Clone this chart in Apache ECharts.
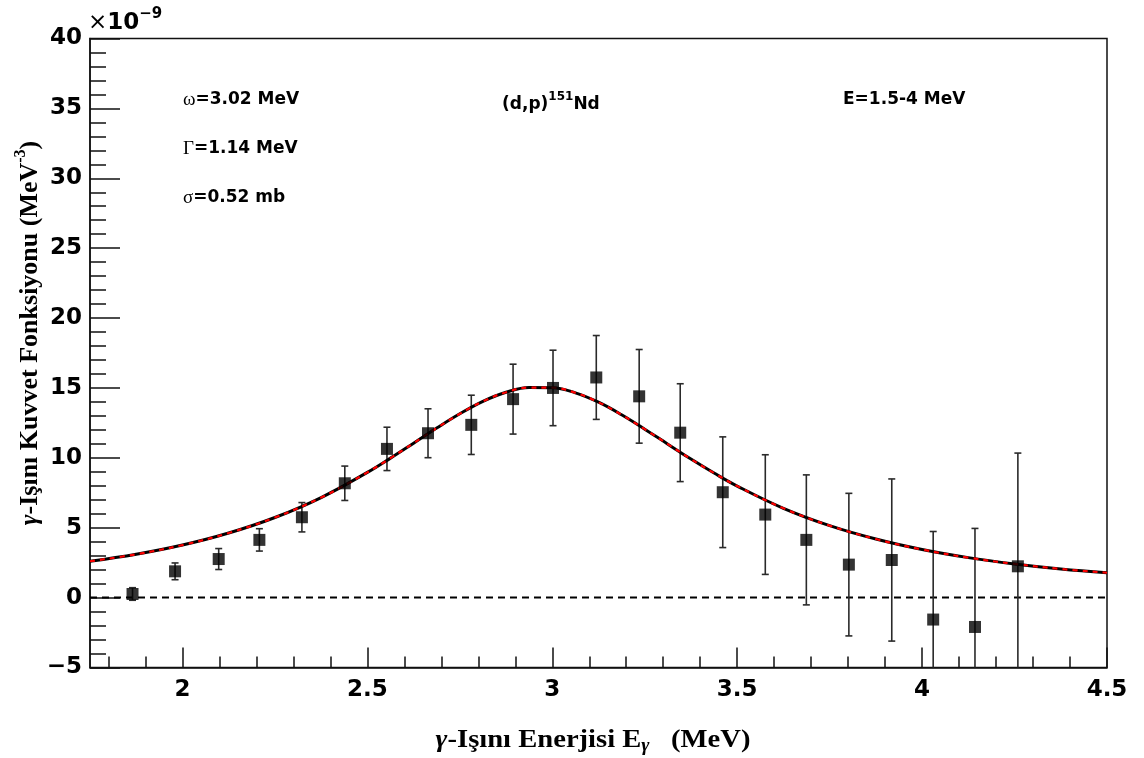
<!DOCTYPE html>
<html>
<head>
<meta charset="utf-8">
<script src="https://cdn.jsdelivr.net/npm/echarts@6.0.0/dist/echarts.min.js"></script>
<style>
html,body{margin:0;padding:0;background:#fff;}
#chart{width:1144px;height:758px;}
</style>
</head>
<body>
<div id="chart"></div>
<script>
// ---- data ----
var pointX = [1.865, 1.980, 2.098, 2.208, 2.323, 2.439, 2.553, 2.664, 2.781, 2.894, 3.002,
              3.119, 3.235, 3.346, 3.461, 3.576, 3.687, 3.802, 3.918, 4.030, 4.143, 4.259];
var pointY = [0.26, 1.88, 2.76, 4.13, 5.75, 8.18, 10.64, 11.76, 12.36, 14.2, 15.0,
              15.75, 14.4, 11.8, 7.54, 5.94, 4.13, 2.36, 2.69, -1.57, -2.1, 2.24];
var pointErr = [0.45, 0.6, 0.75, 0.8, 1.05, 1.23, 1.55, 1.75, 2.12, 2.5, 2.7,
                3.0, 3.35, 3.5, 3.96, 4.28, 4.65, 5.1, 5.8, 6.3, 7.05, 8.1];
var curveX = [1.75, 1.875, 2.0, 2.125, 2.25, 2.375, 2.5, 2.5625, 2.625, 2.6875, 2.75, 2.8125,
              2.875, 2.9375, 3.0, 3.0625, 3.125, 3.1875, 3.25, 3.3125, 3.375, 3.4375, 3.5,
              3.625, 3.75, 3.875, 4.0, 4.125, 4.25, 4.375, 4.5];
var curveY = [2.6, 3.1, 3.76, 4.62, 5.73, 7.16, 8.96, 9.98, 11.05, 12.13, 13.15, 14.04,
              14.69, 15.03, 15.02, 14.65, 13.98, 13.08, 12.05, 10.98, 9.91, 8.91, 7.98,
              6.39, 5.15, 4.19, 3.44, 2.86, 2.41, 2.05, 1.78];
var zeroX = [1.75, 4.5];
var zeroY = [0, 0];
var xMajorTicks = [2, 2.5, 3, 3.5, 4, 4.5];
var xMinorTicks = [1.8, 1.9, 2.1, 2.2, 2.3, 2.4, 2.6, 2.7, 2.8, 2.9, 3.1, 3.2, 3.3, 3.4,
                   3.6, 3.7, 3.8, 3.9, 4.1, 4.2, 4.3, 4.4];
var xRange = [1.75, 4.5];
var yRange = [-5, 40];
var yStep = 5;

// ---- build ----
var SANS = 'DejaVu Sans, Liberation Sans, Arial, sans-serif';
var SERIF = 'Liberation Serif, Times New Roman, serif';
var AX = '#111';

var scatterData = pointX.map(function (x, i) { return [x, pointY[i]]; });
var errData = pointX.map(function (x, i) { return [x, pointY[i] - pointErr[i], pointY[i] + pointErr[i]]; });
var curveData = curveX.map(function (x, i) { return [x, curveY[i]]; });
var zeroData = zeroX.map(function (x, i) { return [x, zeroY[i]]; });

var chart = echarts.init(document.getElementById('chart'), null, { renderer: 'canvas' });

function errRender(params, api) {
  var x = api.value(0), lo = api.value(1), hi = api.value(2);
  var loC = Math.max(lo, yRange[0]), hiC = Math.min(hi, yRange[1]);
  var pLo = api.coord([x, loC]);
  var pHi = api.coord([x, hiC]);
  var st = { stroke: '#2a2a2a', lineWidth: 1.6 };
  var children = [{
    type: 'line', shape: { x1: pLo[0], y1: pLo[1], x2: pHi[0], y2: pHi[1] }, style: st
  }];
  var cw = 3.5;
  if (lo >= yRange[0]) children.push({ type: 'line', shape: { x1: pLo[0] - cw, y1: pLo[1], x2: pLo[0] + cw, y2: pLo[1] }, style: st });
  if (hi <= yRange[1]) children.push({ type: 'line', shape: { x1: pHi[0] - cw, y1: pHi[1], x2: pHi[0] + cw, y2: pHi[1] }, style: st });
  return { type: 'group', children: children };
}

var option = {
  backgroundColor: '#fff',
  animation: false,
  grid: {
    left: 90, right: 37, top: 38.5, bottom: 90.5,
    show: true, borderColor: AX, borderWidth: 1.5, backgroundColor: 'transparent'
  },
  xAxis: [{
    type: 'value', min: xRange[0], max: xRange[1], position: 'bottom',
    axisLine: { show: true, onZero: false, lineStyle: { color: AX, width: 1.5 } },
    axisTick: { show: true, inside: true, length: 20, customValues: xMajorTicks, lineStyle: { color: AX, width: 1.5 } },
    axisLabel: { show: true, customValues: xMajorTicks, margin: 11, color: '#000', fontFamily: SANS, fontWeight: 'bold', fontSize: 23 },
    splitLine: { show: false }
  }, {
    type: 'value', min: xRange[0], max: xRange[1], position: 'bottom',
    axisLine: { show: false, onZero: false },
    axisTick: { show: true, inside: true, length: 11, customValues: xMinorTicks, lineStyle: { color: AX, width: 1.5 } },
    axisLabel: { show: false },
    splitLine: { show: false }
  }],
  yAxis: {
    type: 'value', min: yRange[0], max: yRange[1], interval: yStep,
    axisLine: { show: true, onZero: false, lineStyle: { color: AX, width: 1.5 } },
    axisTick: { show: true, inside: true, length: 30, lineStyle: { color: AX, width: 1.5 } },
    minorTick: { show: true, splitNumber: 5, length: 16, lineStyle: { color: AX, width: 1.5 } },
    axisLabel: {
      margin: 8, color: '#000', fontFamily: SANS, fontWeight: 'bold', fontSize: 23,
      formatter: function (v) { return String(v).replace('-', '\u2212'); }
    },
    splitLine: { show: false }
  },
  series: [{
    type: 'line', name: 'zero', data: zeroData, showSymbol: false, symbol: 'none',
    lineStyle: { color: '#000', width: 2, type: [7, 5] }, z: 2, silent: true
  }, {
    type: 'custom', name: 'err', data: errData, renderItem: errRender, z: 3, silent: true,
    encode: { x: 0, y: [1, 2] }
  }, {
    type: 'line', name: 'fitBlack', data: curveData, smooth: 0.4, showSymbol: false, symbol: 'none',
    lineStyle: { color: '#000', width: 3 }, z: 4, silent: true
  }, {
    type: 'line', name: 'fitRed', data: curveData, smooth: 0.4, showSymbol: false, symbol: 'none',
    lineStyle: { color: '#ff0000', width: 2.2, type: [5, 5] }, z: 5, silent: true
  }, {
    type: 'scatter', name: 'data', data: scatterData, symbol: 'rect', symbolSize: 12,
    itemStyle: { color: '#000' }, z: 6, silent: true
  }],
  graphic: [{
    type: 'text', left: 88, top: 7,
    style: {
      text: '{x|\u00d7}{a|10}{s|\u22129}',
      rich: {
        x: { fontFamily: 'DejaVu Sans', fontSize: 23, fontWeight: 'normal', fill: '#000', lineHeight: 28, verticalAlign: 'bottom' },
        a: { fontFamily: SANS, fontSize: 23, fontWeight: 'bold', fill: '#000', lineHeight: 28, verticalAlign: 'bottom' },
        s: { fontFamily: SANS, fontSize: 15, fontWeight: 'bold', fill: '#000', lineHeight: 12, verticalAlign: 'top' }
      }
    }
  }, {
    type: 'text', x: 183, y: 100,
    style: {
      text: '{g|\u03c9}{t|=3.02 MeV}', verticalAlign: 'middle',
      rich: {
        g: { fontFamily: SERIF, fontSize: 19, fill: '#000' },
        t: { fontFamily: SANS, fontSize: 17, fontWeight: 'bold', fill: '#000' }
      }
    }
  }, {
    type: 'text', x: 183, y: 149,
    style: {
      text: '{g|\u0393}{t|=1.14 MeV}', verticalAlign: 'middle',
      rich: {
        g: { fontFamily: SERIF, fontSize: 19, fill: '#000' },
        t: { fontFamily: SANS, fontSize: 17, fontWeight: 'bold', fill: '#000' }
      }
    }
  }, {
    type: 'text', x: 183, y: 198,
    style: {
      text: '{g|\u03c3}{t|=0.52 mb}', verticalAlign: 'middle',
      rich: {
        g: { fontFamily: SERIF, fontSize: 19, fill: '#000' },
        t: { fontFamily: SANS, fontSize: 17, fontWeight: 'bold', fill: '#000' }
      }
    }
  }, {
    type: 'text', x: 502, y: 91,
    style: {
      text: '{t|(d,p)}{s|151}{t|Nd}',
      rich: {
        t: { fontFamily: SANS, fontSize: 17, fontWeight: 'bold', fill: '#000', lineHeight: 22, verticalAlign: 'bottom' },
        s: { fontFamily: SANS, fontSize: 12, fontWeight: 'bold', fill: '#000', lineHeight: 12, verticalAlign: 'top' }
      }
    }
  }, {
    type: 'text', x: 843, y: 100,
    style: {
      text: 'E=1.5-4 MeV', verticalAlign: 'middle',
      fontFamily: SANS, fontSize: 17, fontWeight: 'bold', fill: '#000'
    }
  }, {
    type: 'text', x: 593, y: 740, scaleX: 1.1,
    style: {
      text: '{g|\u03b3}{t|-I\u015f\u0131n\u0131 Enerjisi E}{sub|\u03b3}{t|   (MeV)}',
      align: 'center', verticalAlign: 'middle',
      rich: {
        g: { fontFamily: SERIF, fontSize: 26, fontWeight: 'bold', fontStyle: 'italic', fill: '#000', lineHeight: 30 },
        t: { fontFamily: SERIF, fontSize: 26, fontWeight: 'bold', fill: '#000', lineHeight: 30 },
        sub: { fontFamily: SERIF, fontSize: 18, fontWeight: 'bold', fontStyle: 'italic', fill: '#000', lineHeight: 20, verticalAlign: 'bottom' }
      }
    }
  }, {
    type: 'text', x: 28, y: 333, rotation: Math.PI / 2,
    style: {
      text: '{g|\u03b3}{t|-I\u015f\u0131n\u0131 Kuvvet Fonksiyonu (MeV}{s|-3}{t|)}',
      align: 'center', verticalAlign: 'middle',
      rich: {
        g: { fontFamily: SERIF, fontSize: 26, fontWeight: 'bold', fontStyle: 'italic', fill: '#000', lineHeight: 30, verticalAlign: 'bottom' },
        t: { fontFamily: SERIF, fontSize: 26, fontWeight: 'bold', fill: '#000', lineHeight: 30, verticalAlign: 'bottom' },
        s: { fontFamily: SERIF, fontSize: 16, fontWeight: 'bold', fill: '#000', lineHeight: 15, verticalAlign: 'top' }
      }
    }
  }]
};
chart.setOption(option);
</script>
</body>
</html>
